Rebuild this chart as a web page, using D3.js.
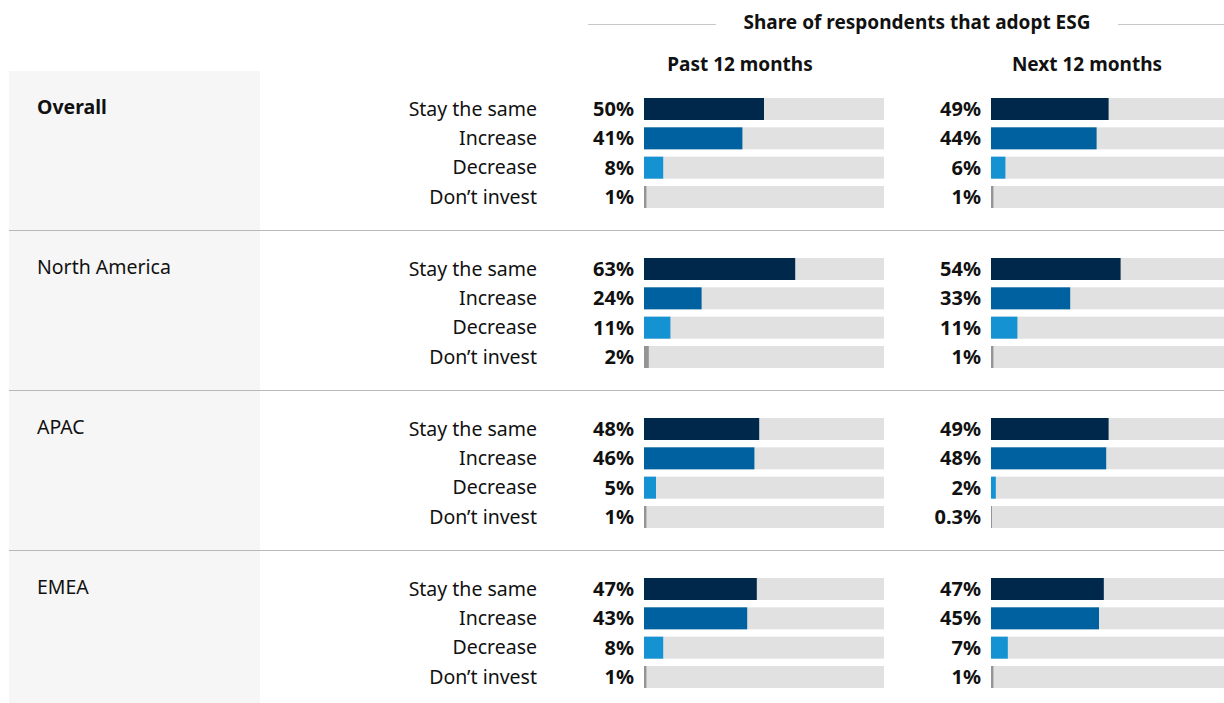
<!DOCTYPE html>
<html>
<head>
<meta charset="utf-8">
<script src="https://cdn.jsdelivr.net/npm/d3@7"></script>
<style>
  html, body { margin: 0; padding: 0; background: #fff; }
  svg { display: block; font-family: "Noto Sans", "Open Sans", sans-serif; }
</style>
</head>
<body>
<div id="chart"></div>
<script>
var regions = ["Overall", "North America", "APAC", "EMEA"];
var answers = ["Stay the same", "Increase", "Decrease", "Don\u2019t invest"];
var periods = ["Past 12 months", "Next 12 months"];
// values per region, in order of answers
var past12 = [
    [50, 41, 8, 1],
    [63, 24, 11, 2],
    [48, 46, 5, 1],
    [47, 43, 8, 1]
];
var next12 = [
    [49, 44, 6, 1],
    [54, 33, 11, 1],
    [49, 48, 2, 0.3],
    [47, 45, 7, 1]
];
var barColors = ["#00284b", "#0061a0", "#1492d2", "#949494"];

var width = 1224, height = 703;
var svg = d3.select("#chart").append("svg")
    .attr("width", width).attr("height", height);

var groupTop = 71, groupH = 160;
var yGroup = d3.scaleBand().domain(regions).range([groupTop, groupTop + groupH * regions.length]);
var yRow = d3.scaleBand().domain(answers).range([27, 137]).paddingInner(0.25).paddingOuter(0);
var xPast = d3.scaleLinear().domain([0, 100]).range([644, 884]);
var xNext = d3.scaleLinear().domain([0, 100]).range([991, 1231]);
var scales = [xPast, xNext];
var data = [past12, next12];

// grey region panel
svg.append("rect")
    .attr("x", 9).attr("y", groupTop)
    .attr("width", 251).attr("height", height - groupTop)
    .attr("fill", "#f6f6f6");

// title
svg.append("text")
    .attr("x", 917).attr("y", 29)
    .attr("text-anchor", "middle")
    .attr("font-size", 19).attr("font-weight", 700).attr("fill", "#111")
    .text("Share of respondents that adopt ESG");
svg.append("line").attr("x1", 588).attr("x2", 716).attr("y1", 24.5).attr("y2", 24.5)
    .attr("stroke", "#c8c8c8");
svg.append("line").attr("x1", 1118).attr("x2", 1224).attr("y1", 24.5).attr("y2", 24.5)
    .attr("stroke", "#c8c8c8");

svg.selectAll(".period").data(periods).enter().append("text")
    .attr("class", "period")
    .attr("x", function(d, i){ return i === 0 ? 740 : 1087; })
    .attr("y", 71)
    .attr("text-anchor", "middle")
    .attr("font-size", 19).attr("font-weight", 700).attr("fill", "#111")
    .text(function(d){ return d; });

// separators between regions
svg.selectAll(".sep").data(regions.slice(1)).enter().append("line")
    .attr("class", "sep")
    .attr("x1", 9).attr("x2", width)
    .attr("y1", function(d){ return Math.round(yGroup(d)) - 0.5; })
    .attr("y2", function(d){ return Math.round(yGroup(d)) - 0.5; })
    .attr("stroke", "#b9b9b9");

var groups = svg.selectAll(".region").data(regions).enter().append("g")
    .attr("class", "region")
    .attr("transform", function(d){ return "translate(0," + yGroup(d) + ")"; });

groups.append("text")
    .attr("x", 37).attr("y", 43)
    .attr("font-size", 19.5)
    .attr("font-weight", function(d, i){ return i === 0 ? 700 : 400; })
    .attr("fill", "#111")
    .text(function(d){ return d; });

groups.selectAll(".answer").data(answers).enter().append("text")
    .attr("class", "answer")
    .attr("x", 537)
    .attr("y", function(d){ return yRow(d) + yRow.bandwidth() / 2 + 6.5; })
    .attr("text-anchor", "end")
    .attr("font-size", 19.5).attr("fill", "#111")
    .text(function(d){ return d; });

periods.forEach(function(p, pi){
    var x = scales[pi];
    groups.each(function(region, ri){
        var g = d3.select(this);
        var vals = data[pi][ri];
        g.selectAll(".track" + pi).data(answers).enter().append("rect")
            .attr("x", x(0)).attr("width", x(100) - x(0))
            .attr("y", function(d){ return yRow(d); })
            .attr("height", yRow.bandwidth())
            .attr("fill", "#e1e1e1");
        g.selectAll(".bar" + pi).data(vals).enter().append("rect")
            .attr("x", x(0))
            .attr("width", function(v){ return Math.max(1, x(v) - x(0)); })
            .attr("y", function(v, i){ return yRow(answers[i]); })
            .attr("height", yRow.bandwidth())
            .attr("fill", function(v, i){ return barColors[i]; });
        g.selectAll(".val" + pi).data(vals).enter().append("text")
            .attr("x", x(0) - 10)
            .attr("y", function(v, i){ return yRow(answers[i]) + yRow.bandwidth() / 2 + 7; })
            .attr("text-anchor", "end")
            .attr("font-size", 20).attr("font-weight", 700).attr("fill", "#111")
            .text(function(v){ return v + "%"; });
    });
});
</script>
</body>
</html>
